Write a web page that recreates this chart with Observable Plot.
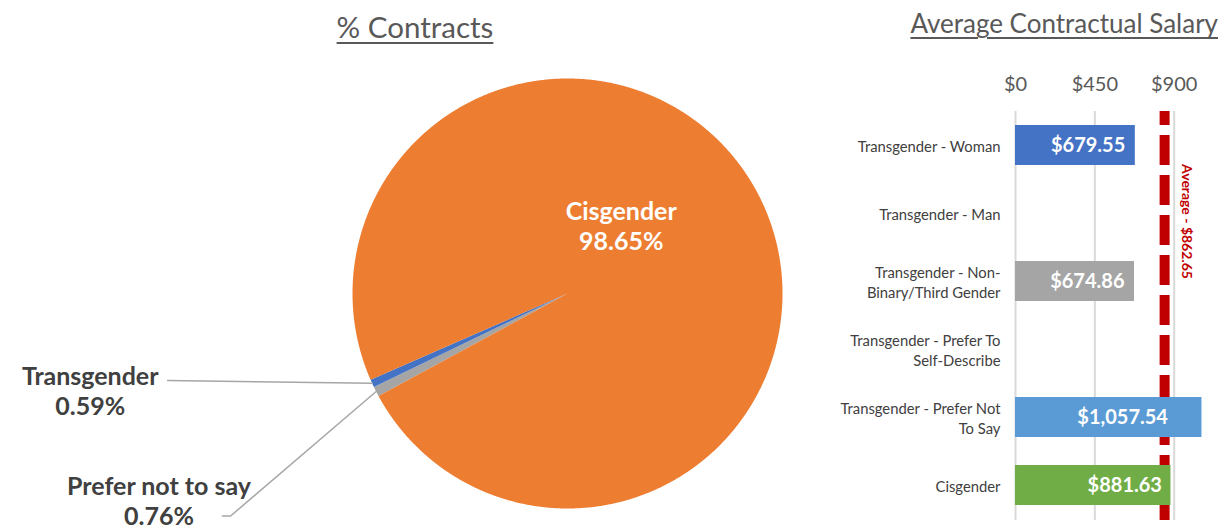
<!DOCTYPE html>
<html>
<head>
<meta charset="utf-8">
<script src="https://cdn.jsdelivr.net/npm/d3@7"></script>
<script src="https://cdn.jsdelivr.net/npm/@observablehq/plot@0.6"></script>
<style>
  html, body { margin: 0; padding: 0; background: #fff; }
  #wrap { position: relative; width: 1222px; height: 531px; overflow: hidden; font-family: Lato, "Open Sans", sans-serif; }
  .title { position: absolute; color: #595959; text-decoration: underline; text-decoration-thickness: 2px; text-underline-offset: 4px; white-space: nowrap; }
  #t1 { left: 0; width: 830px; text-align: center; top: 9px; font-size: 29.5px; }
  #t2 { right: 4px; top: 7px; font-size: 26px; }
  #pie { position: absolute; left: 0; top: 0; }
  #bars { position: absolute; left: 820px; top: 50px; }
</style>
</head>
<body>
<div id="wrap">
  <div class="title" id="t1">% Contracts</div>
  <div class="title" id="t2">Average Contractual Salary</div>
  <div id="pie"></div>
  <div id="bars"></div>
</div>
<script>
// ---------- data ----------
const pieCats = ["Prefer not to say", "Transgender", "Cisgender"];
const pieValues = [0.76, 0.59, 98.65];
const pieColors = ["#a5a5a5", "#4472c4", "#ed7d31"];

const salaryCats = [
  "Transgender - Woman",
  "Transgender - Man",
  "Transgender - Non-Binary/Third Gender",
  "Transgender - Prefer To Self-Describe",
  "Transgender - Prefer Not To Say",
  "Cisgender"
];
const salaryTickLabels = [
  "Transgender - Woman",
  "Transgender - Man",
  "Transgender - Non-\nBinary/Third Gender",
  "Transgender - Prefer To\nSelf-Describe",
  "Transgender - Prefer Not\nTo Say",
  "Cisgender"
];
const salaryValues = [679.55, null, 674.86, null, 1057.54, 881.63];
const salaryColors = ["#4472c4", "#ed7d31", "#a5a5a5", "#ffc000", "#5b9bd5", "#70ad47"];
const salaryTicks = [0, 450, 900];
const averageSalary = 862.65;

// value-label offsets from bar ends (layout only, px)
const valueLabelDx = [-10, 0, -10, 0, -34, -9];

// ---------- pie ----------
const startDeg = 241.5;
const arcs = d3.pie().sort(null)
  .startAngle(startDeg * Math.PI / 180)
  .endAngle(startDeg * Math.PI / 180 + 2 * Math.PI)(pieValues);

const polys = [];
arcs.forEach((a, i) => {
  polys.push({name: pieCats[i], x: 0, y: 0});
  const n = Math.max(4, Math.ceil((a.endAngle - a.startAngle) / 0.005));
  for (let k = 0; k <= n; k++) {
    const t = a.startAngle + (a.endAngle - a.startAngle) * k / n;
    polys.push({name: pieCats[i], x: Math.sin(t), y: Math.cos(t)});
  }
  polys.push({name: pieCats[i], x: 0, y: 0});
});
const mid = i => {
  const t = (arcs[i].startAngle + arcs[i].endAngle) / 2;
  return [Math.sin(t), Math.cos(t)];
};

// label anchors (unit-circle layout coordinates)
const pieLabels = [
  {text: "Prefer not to say\n" + pieValues[0].toFixed(2) + "%", x: -1.90, y: -0.96, fill: "#404040"},
  {text: "Transgender\n" + pieValues[1].toFixed(2) + "%", x: -2.22, y: -0.45, fill: "#404040"},
  {text: "Cisgender\n" + pieValues[2].toFixed(2) + "%", x: 0.25, y: 0.315, fill: "white"}
];
const leaders = [
  [{x: -1.605, y: -1.035}, {x: -1.567, y: -1.035}, {x: mid(0)[0], y: mid(0)[1]}],
  [{x: -1.86, y: -0.405}, {x: mid(1)[0], y: mid(1)[1]}]
];

const pie = Plot.plot({
  width: 820, height: 531,
  margin: 0,
  x: {domain: [-1, 1], range: [352, 782], axis: null},
  y: {domain: [-1, 1], range: [508, 78], axis: null},
  color: {domain: pieCats, range: pieColors},
  style: {fontFamily: "Lato, 'Open Sans', sans-serif", overflow: "visible"},
  marks: [
    Plot.line(polys, {x: "x", y: "y", z: "name", fill: "name", stroke: "none", curve: "linear"}),
    ...leaders.map(pts => Plot.line(pts, {x: "x", y: "y", stroke: "#a6a6a6", strokeWidth: 1.5})),
    Plot.text(pieLabels, {x: "x", y: "y", text: "text", fill: d => d.fill, fontSize: 25, fontWeight: "bold", lineHeight: 1.2, textAnchor: "middle"})
  ]
});
document.getElementById("pie").appendChild(pie);

// ---------- bars ----------
const salaryData = salaryCats.map((c, i) => ({cat: c, value: salaryValues[i], color: salaryColors[i], dx: valueLabelDx[i]}));
const present = salaryData.filter(d => d.value != null);
const tickLab = new Map(salaryCats.map((c, i) => [c, salaryTickLabels[i]]));
const fmt = v => "$" + d3.format(",.2f")(v);

const bars = Plot.plot({
  width: 402, height: 481,
  marginLeft: 195, marginRight: 0, marginTop: 61, marginBottom: 11,
  x: {domain: [0, 1174]},
  y: {domain: salaryCats, paddingInner: 0.41, paddingOuter: 0.205},
  style: {fontFamily: "Lato, 'Open Sans', sans-serif", overflow: "visible", color: "#595959"},
  marks: [
    Plot.ruleX(salaryTicks, {stroke: "#d9d9d9", strokeWidth: 2}),
    Plot.ruleX([averageSalary], {stroke: "#c00000", strokeWidth: 10, strokeDasharray: "30,10", strokeDashoffset: 16, dx: -3}),
    Plot.barX(present, {x: "value", y: "cat", fill: d => d.color}),
    ...present.map(d => Plot.text([d], {x: "value", y: "cat", text: v => fmt(v.value), textAnchor: "end", dx: d.dx, fill: "white", fontWeight: "bold", fontSize: 20})),
    Plot.text([averageSalary], {x: d => d, frameAnchor: "top", dx: 24, dy: 110, rotate: 90, text: d => "Average - " + fmt(d), fill: "#c00000", fontWeight: "bold", fontSize: 14, textAnchor: "middle"}),
    Plot.axisX({anchor: "top", ticks: salaryTicks, tickFormat: d => "$" + d, tickSize: 0, tickPadding: 21, fontSize: 20, color: "#595959", label: null}),
    Plot.axisY({anchor: "left", tickSize: 0, tickPadding: 15, fontSize: 14.8, color: "#404040", tickFormat: d => tickLab.get(d), lineHeight: 1.35, label: null})
  ]
});
document.getElementById("bars").appendChild(bars);
</script>
</body>
</html>
